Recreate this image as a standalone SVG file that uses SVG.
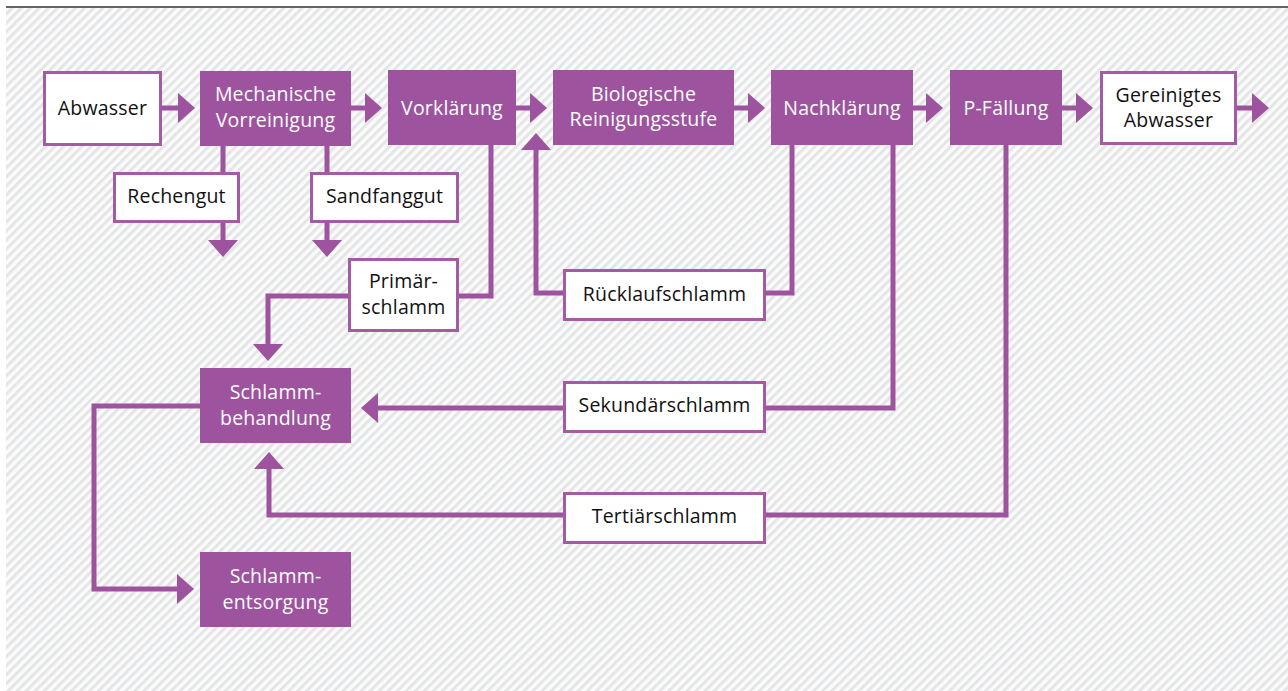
<svg xmlns="http://www.w3.org/2000/svg" width="1288" height="691" viewBox="0 0 1288 691">
<defs>
<pattern id="stripes" patternUnits="userSpaceOnUse" width="6.4" height="6.4" patternTransform="rotate(45)">
<rect x="0" y="0" width="6.4" height="6.4" fill="#fbfbfb"/>
<rect x="0" y="0" width="3" height="6.4" fill="#e4e5e6"/>
</pattern>
<marker id="ah" viewBox="0 0 17 30" markerWidth="17" markerHeight="30" refX="0" refY="15" markerUnits="userSpaceOnUse" orient="auto">
<path d="M0,0 L17,15 L0,30 z" fill="#9d539d"/>
</marker>
<style>
.fill{fill:#9d539d;}
.box{fill:#ffffff;stroke:#a35ca3;stroke-width:3;}
.tw{font-family:"Open Sans","Noto Sans",sans-serif;font-size:19.5px;font-weight:500;letter-spacing:0.2px;fill:#ffffff;text-anchor:middle;}
.tb{font-family:"Open Sans","Noto Sans",sans-serif;font-size:19.5px;font-weight:500;letter-spacing:0.2px;fill:#111111;text-anchor:middle;}
.c{fill:none;stroke:#9d539d;stroke-width:5;}
.ca{fill:none;stroke:#9d539d;stroke-width:5;marker-end:url(#ah);}
</style>
</defs>
<rect x="0" y="0" width="1288" height="691" fill="#ffffff"/>
<rect x="6" y="8" width="1282" height="683" fill="url(#stripes)"/>
<line x1="6" y1="7" x2="1288" y2="7" stroke="#333333" stroke-width="1.5"/>

<g id="connectors">
<path class="ca" d="M162,108 H178"/>
<path class="ca" d="M351,108 H365"/>
<path class="ca" d="M516,108 H530"/>
<path class="ca" d="M734,108 H748"/>
<path class="ca" d="M913,108 H926"/>
<path class="ca" d="M1062,108 H1076"/>
<path class="ca" d="M1236,108 H1252"/>
<path class="c" d="M223,146 V172"/>
<path class="ca" d="M223,222 V240"/>
<path class="c" d="M327,146 V172"/>
<path class="ca" d="M327,222 V240"/>
<path class="c" d="M491,145 V296 H459"/>
<path class="ca" d="M348,296 H268 V344"/>
<path class="c" d="M792,145 V293 H766"/>
<path class="ca" d="M563,293 H536 V150"/>
<path class="c" d="M893,145 V408 H766"/>
<path class="ca" d="M563,408 H378"/>
<path class="c" d="M1006,145 V515 H766"/>
<path class="ca" d="M563,515 H269 V469"/>
<path class="ca" d="M200,406 H94 V589 H177"/>
</g>

<g id="abwasser">
<rect class="box" x="44.5" y="72.5" width="116" height="72"/>
<text class="tb" x="102.5" y="115">Abwasser</text>
</g>
<g id="mechanische">
<rect class="fill" x="200" y="71" width="151" height="75"/>
<text class="tw" x="275.5" y="101">Mechanische</text>
<text class="tw" x="275.5" y="127">Vorreinigung</text>
</g>
<g id="vorklaerung">
<rect class="fill" x="388" y="70" width="128" height="75"/>
<text class="tw" x="452" y="115">Vorklärung</text>
</g>
<g id="biologische">
<rect class="fill" x="553" y="70" width="181" height="75"/>
<text class="tw" x="643.5" y="101">Biologische</text>
<text class="tw" x="643.5" y="126">Reinigungsstufe</text>
</g>
<g id="nachklaerung">
<rect class="fill" x="771" y="70" width="142" height="75"/>
<text class="tw" x="842" y="115">Nachklärung</text>
</g>
<g id="pfaellung">
<rect class="fill" x="950" y="70" width="112" height="75"/>
<text class="tw" x="1006" y="115">P-Fällung</text>
</g>
<g id="gereinigtes">
<rect class="box" x="1101.5" y="72.5" width="134" height="71"/>
<text class="tb" x="1168.5" y="102">Gereinigtes</text>
<text class="tb" x="1168.5" y="127">Abwasser</text>
</g>
<g id="rechengut">
<rect class="box" x="114.5" y="173.5" width="124" height="48"/>
<text class="tb" x="176.5" y="203">Rechengut</text>
</g>
<g id="sandfanggut">
<rect class="box" x="311.5" y="173.5" width="146" height="48"/>
<text class="tb" x="384.5" y="203">Sandfanggut</text>
</g>
<g id="primaerschlamm">
<rect class="box" x="349.5" y="259.5" width="108" height="71"/>
<text class="tb" x="403.5" y="288">Primär-</text>
<text class="tb" x="403.5" y="314">schlamm</text>
</g>
<g id="ruecklaufschlamm">
<rect class="box" x="564.5" y="270.5" width="200" height="49"/>
<text class="tb" x="664.5" y="301">Rücklaufschlamm</text>
</g>
<g id="sekundaerschlamm">
<rect class="box" x="564.5" y="382.5" width="200" height="49"/>
<text class="tb" x="664.5" y="412">Sekundärschlamm</text>
</g>
<g id="tertiaerschlamm">
<rect class="box" x="564.5" y="493.5" width="200" height="49"/>
<text class="tb" x="664.5" y="523">Tertiärschlamm</text>
</g>
<g id="schlammbehandlung">
<rect class="fill" x="200" y="368" width="151" height="75"/>
<text class="tw" x="275.5" y="399">Schlamm-</text>
<text class="tw" x="275.5" y="425">behandlung</text>
</g>
<g id="schlammentsorgung">
<rect class="fill" x="200" y="552" width="151" height="75"/>
<text class="tw" x="275.5" y="583">Schlamm-</text>
<text class="tw" x="275.5" y="609">entsorgung</text>
</g>
</svg>
